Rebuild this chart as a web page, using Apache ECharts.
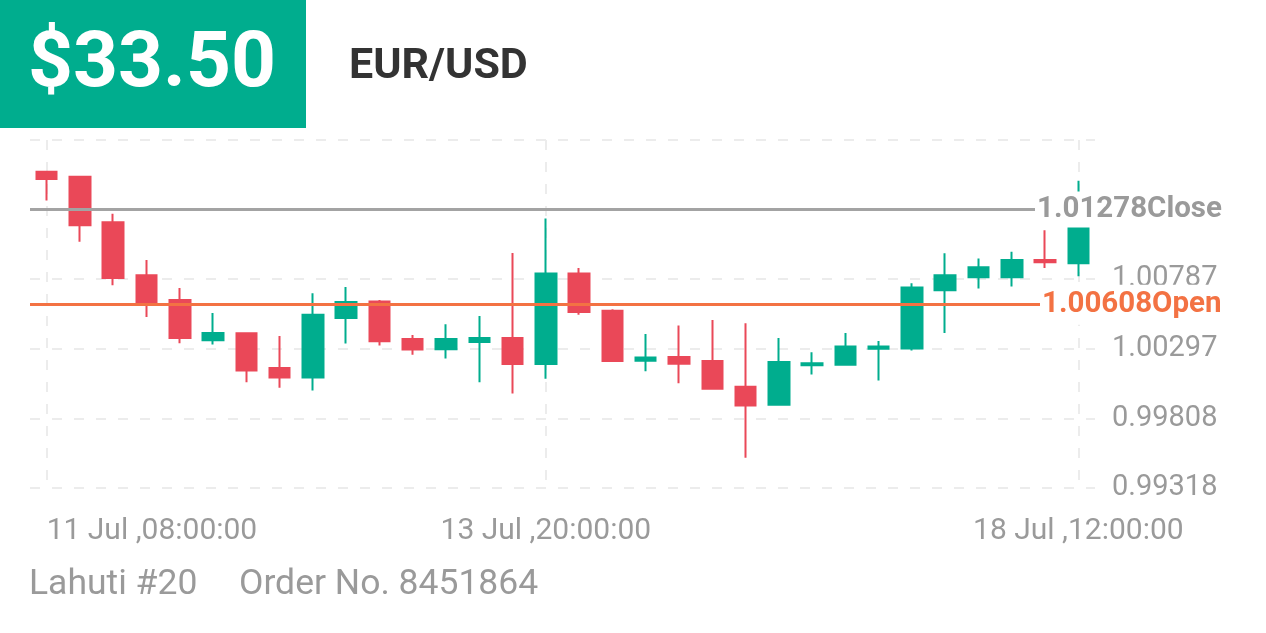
<!DOCTYPE html>
<html>
<head>
<meta charset="utf-8">
<script src="https://cdn.jsdelivr.net/npm/echarts@6/dist/echarts.min.js"></script>
<style>
html,body{margin:0;padding:0;background:#fff;}
#chart{width:1266px;height:633px;}
</style>
</head>
<body>
<div id="chart"></div>
<script>
// ---- data ----
const categories = [
  '11 Jul ,08:00:00','11 Jul ,12:00:00','11 Jul ,16:00:00','11 Jul ,20:00:00',
  '12 Jul ,00:00:00','12 Jul ,04:00:00','12 Jul ,08:00:00','12 Jul ,12:00:00',
  '12 Jul ,16:00:00','12 Jul ,20:00:00','13 Jul ,00:00:00','13 Jul ,04:00:00',
  '13 Jul ,08:00:00','13 Jul ,12:00:00','13 Jul ,16:00:00','13 Jul ,20:00:00',
  '14 Jul ,00:00:00','14 Jul ,04:00:00','14 Jul ,08:00:00','14 Jul ,12:00:00',
  '14 Jul ,16:00:00','14 Jul ,20:00:00','15 Jul ,00:00:00','15 Jul ,04:00:00',
  '15 Jul ,08:00:00','15 Jul ,12:00:00','15 Jul ,16:00:00','15 Jul ,20:00:00',
  '18 Jul ,00:00:00','18 Jul ,04:00:00','18 Jul ,08:00:00','18 Jul ,12:00:00'
];
const opens  = [1.01543,1.01508,1.01188,1.00815,1.00640,1.00358,1.00407,1.00162,1.00095,1.00514,1.00631,1.00367,1.00295,1.00346,1.00374,1.00190,1.00827,1.00565,1.00214,1.00239,1.00211,1.00030,0.99904,1.00182,1.00186,1.00297,1.00300,1.00710,1.00801,1.00801,1.00922,1.00899];
const closes = [1.01492,1.01167,1.00796,1.00626,1.00374,1.00409,1.00144,1.00095,1.00537,1.00626,1.00351,1.00293,1.00367,1.00374,1.00190,1.00827,1.00556,1.00211,1.00237,1.00193,1.00016,0.99899,1.00204,1.00196,1.00314,1.00314,1.00729,1.00815,1.00871,1.00922,1.00906,1.01188];
const lows   = [1.01340,1.01051,1.00745,1.00521,1.00337,1.00328,1.00062,1.00023,1.00004,1.00335,1.00321,1.00256,1.00230,1.00062,0.99983,1.00086,1.00537,1.00207,1.00139,1.00055,1.00016,0.99530,0.99904,1.00116,1.00186,1.00074,1.00286,1.00409,1.00722,1.00736,1.00866,1.00808];
const highs  = [1.01548,1.01508,1.01247,1.00922,1.00726,1.00549,1.00414,1.00388,1.00689,1.00733,1.00640,1.00395,1.00470,1.00528,1.00971,1.01214,1.00866,1.00575,1.00402,1.00461,1.00500,1.00477,1.00374,1.00274,1.00409,1.00353,1.00759,1.00969,1.00932,1.00981,1.01132,1.01480];
const labelIndices = [0, 15, 31];
const yMin = 0.99318;
const yInterval = 0.004897;
const yMax = 1.017665;
const closeValue = 1.01278;
const openValue = 1.00608;
const priceText = '$33.50';
const pairText = 'EUR/USD';
const footerLeft = 'Lahuti #20';
const footerRight = 'Order No. 8451864';

const ohlc = opens.map((o, i) => [o, closes[i], lows[i], highs[i]]);

const UP = '#00ad8e', DOWN = '#ea4858', GRAY = '#9a9a9a';
const FONT = 'Roboto';

const chart = echarts.init(document.getElementById('chart'), null, {renderer: 'canvas'});
const showIdx = (idx) => labelIndices.indexOf(idx) >= 0;

chart.setOption({
  animation: false,
  backgroundColor: '#ffffff',
  grid: {left: 30, right: 171, top: 140, bottom: 145, containLabel: false},
  xAxis: {
    type: 'category',
    data: categories,
    boundaryGap: true,
    axisLine: {show: false},
    axisTick: {show: false, alignWithLabel: true},
    axisLabel: {
      interval: (i) => showIdx(i),
      color: GRAY, fontFamily: FONT, fontSize: 30, margin: 28,
      alignMinLabel: 'left'
    },
    splitLine: {
      show: true,
      alignWithLabel: true,
      interval: (i) => showIdx(i),
      lineStyle: {color: '#ececec', width: 2, type: [10, 12]}
    }
  },
  yAxis: {
    type: 'value',
    position: 'right',
    scale: true,
    min: yMin, max: yMax, interval: yInterval,
    axisLine: {show: false},
    axisTick: {show: false},
    axisLabel: {
      color: GRAY, fontFamily: FONT, fontSize: 29, margin: 17,
      formatter: (v) => v > 1.01 ? '' : v.toFixed(5)
    },
    splitLine: {show: true, lineStyle: {color: '#ececec', width: 2, type: [10, 12]}}
  },
  series: [{
    type: 'candlestick',
    data: ohlc,
    barWidth: 21,
    itemStyle: {color: UP, color0: DOWN, borderColor: UP, borderColor0: DOWN, borderWidth: 2},
    markLine: {
      silent: true,
      symbol: ['none', 'none'],
      data: [
        [
          {x: 30, yAxis: closeValue, lineStyle: {color: '#a3a3a3', width: 3, type: 'solid'},
           label: {show: true, position: 'end', distance: 2, formatter: closeValue.toFixed(5) + 'Close',
                   color: '#9a9a9a', fontFamily: FONT, fontSize: 29.5, fontWeight: 'bold',
                   backgroundColor: '#ffffff', lineHeight: 36}},
          {x: 1035, yAxis: closeValue}
        ],
        [
          {x: 30, yAxis: openValue, lineStyle: {color: '#f37243', width: 3, type: 'solid'},
           label: {show: true, position: 'end', distance: 2, formatter: openValue.toFixed(5) + 'Open',
                   color: '#f37243', fontFamily: FONT, fontSize: 29.5, fontWeight: 'bold',
                   backgroundColor: '#ffffff', lineHeight: 36, padding: [4, 0, 0, 0]}},
          {x: 1040, yAxis: openValue}
        ]
      ]
    }
  }],
  graphic: [
    {type: 'rect', left: 0, top: 0, shape: {width: 306, height: 128}, style: {fill: UP}, z: 10},
    {type: 'text', x: 28, y: 66, z: 11,
     style: {text: priceText, fill: '#ffffff', font: 'bold 78.5px Roboto', textVerticalAlign: 'middle'}},
    {type: 'text', x: 349, y: 67, z: 11,
     style: {text: pairText, fill: '#333333', font: 'bold 43px Roboto', textVerticalAlign: 'middle'}},
    {type: 'text', x: 29, y: 585, z: 11,
     style: {text: footerLeft, fill: GRAY, font: '35.5px Roboto', textVerticalAlign: 'middle'}},
    {type: 'text', x: 239, y: 585, z: 11,
     style: {text: footerRight, fill: GRAY, font: '35.5px Roboto', textVerticalAlign: 'middle'}}
  ]
});
</script>
</body>
</html>
